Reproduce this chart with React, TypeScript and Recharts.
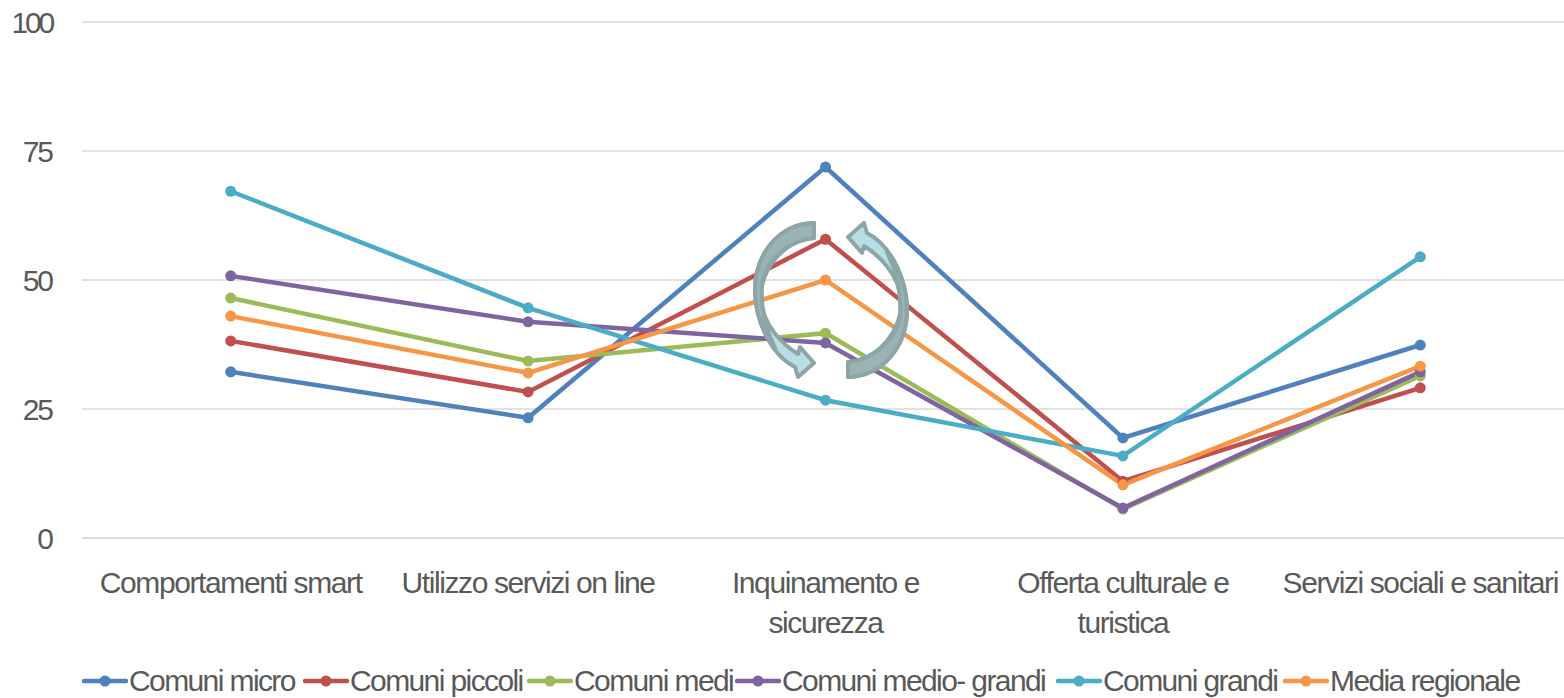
import React from "react";
import { LineChart, Line, XAxis, YAxis, CartesianGrid, Legend } from "recharts";

const categories = [
  "Comportamenti smart",
  "Utilizzo servizi on line",
  "Inquinamento e\nsicurezza",
  "Offerta culturale e\nturistica",
  "Servizi sociali e sanitari",
];

const micro = [32.2, 23.3, 71.9, 19.4, 37.4];
const piccoli = [38.2, 28.3, 57.9, 11, 29.1];
const medi = [46.5, 34.3, 39.7, 5.6, 31.4];
const medioGrandi = [50.8, 41.9, 37.8, 5.8, 32.2];
const grandi = [67.2, 44.6, 26.7, 15.9, 54.5];
const mediaRegionale = [43, 32, 50, 10.3, 33.3];

const yTicks = [0, 25, 50, 75, 100];

const series = [
  { key: "micro", name: "Comuni micro", color: "#4F81BD", values: micro },
  { key: "piccoli", name: "Comuni piccoli", color: "#C0504D", values: piccoli },
  { key: "medi", name: "Comuni medi", color: "#9BBB59", values: medi },
  { key: "medioGrandi", name: "Comuni medio- grandi", color: "#8064A2", values: medioGrandi },
  { key: "grandi", name: "Comuni grandi", color: "#4BACC6", values: grandi },
  { key: "media", name: "Media regionale", color: "#F79646", values: mediaRegionale },
];

// legend item widths, picked so each key starts where it does in the picture
const legendWidths = [221, 224, 208, 321, 227, 240];

const data = categories.map((category, i) => {
  const row: Record<string, string | number> = { category };
  series.forEach((s) => {
    row[s.key] = s.values[i];
  });
  return row;
});

const FONT = "'Liberation Sans', Arial, sans-serif";
const TEXT = "#595959";

const CategoryTick = ({ x, payload }: any) => {
  const lines = String(payload.value).split("\n");
  return (
    <text x={x} y={593} textAnchor="middle" fill={TEXT} fontFamily={FONT} fontSize={30} letterSpacing={-1.4}>
      {lines.map((line, i) => (
        <tspan key={line} x={x} dy={i === 0 ? 0 : 40}>
          {line}
        </tspan>
      ))}
    </text>
  );
};

// 100 is squeezed tighter than the other labels in the original
const ValueTick = ({ y, payload }: any) => {
  const label = String(payload.value);
  return (
    <text x={52} y={y + 11} textAnchor="end" fill={TEXT} fontFamily={FONT} fontSize={30} letterSpacing={label.length > 2 ? -3.2 : -2}>
      {label}
    </text>
  );
};

const LegendRow = () => (
  <div style={{ display: "flex", height: 40, alignItems: "center", paddingLeft: 82, fontFamily: FONT, fontSize: 30, letterSpacing: -1.6, color: TEXT, whiteSpace: "nowrap", transform: "translateY(3px)" }}>
    {series.map((s, i) => (
      <div key={s.key} style={{ display: "flex", alignItems: "center", flex: "none", width: legendWidths[i] }}>
        <svg width={46} height={14} style={{ marginRight: 1, flex: "none" }}>
          <line x1={2} x2={44} y1={7} y2={7} stroke={s.color} strokeWidth={4.5} strokeLinecap="round" />
          <circle cx={23} cy={7} r={5.5} fill={s.color} />
        </svg>
        <span>{s.name}</span>
      </div>
    ))}
  </div>
);

// the two round arrows sitting on top of the chart
const Arrow = ({ transform }: { transform?: string }) => (
  <g transform={transform} strokeLinejoin="round">
    <path
      d="M814 223 C778 224 755 255 755 290 C755 320 770 354 795 367 L798 377 L814 363 L800 347 L798 354 C782 344 763 325 761 300 C760 268 785 240 814 238 Z"
      fill="#B7DEE3"
      stroke="#8CA5A7"
      strokeWidth={4}
    />
    <path
      d="M814 223 C778 224 755 255 755 290 C755 312 763 333 775 348 C766 330 760 310 762 282 C768 258 790 240 814 238 Z"
      fill="#9BB3B4"
      stroke="#8CA5A7"
      strokeWidth={4}
    />
  </g>
);

const App = () => (
  <div style={{ position: "absolute", left: 0, top: 0, width: 1564, height: 698, overflow: "hidden", background: "#fff" }}>
    <LineChart width={1569} height={698} data={data} margin={{ top: 22, right: 0, bottom: 0, left: 0 }}>
      <CartesianGrid horizontal vertical={false} stroke="#D9D9D9" strokeWidth={1.5} />
      <XAxis
        dataKey="category"
        scale="band"
        interval={0}
        height={120}
        tick={<CategoryTick />}
        tickLine={false}
        axisLine={{ stroke: "#D9D9D9", strokeWidth: 1.5 }}
      />
      <YAxis domain={[0, 100]} ticks={yTicks} width={82} tickSize={0} axisLine={false} tick={<ValueTick />} />
      <Legend verticalAlign="bottom" height={40} content={<LegendRow />} />
      {series.map((s) => (
        <Line
          key={s.key}
          dataKey={s.key}
          name={s.name}
          stroke={s.color}
          strokeWidth={4.5}
          dot={{ r: 5.5, fill: s.color, stroke: s.color, strokeWidth: 0 }}
          isAnimationActive={false}
        />
      ))}
    </LineChart>
    <svg width={1564} height={698} style={{ position: "absolute", left: 0, top: 0, pointerEvents: "none" }}>
      <Arrow />
      <Arrow transform="rotate(180 831 300)" />
    </svg>
  </div>
);

export default App;
